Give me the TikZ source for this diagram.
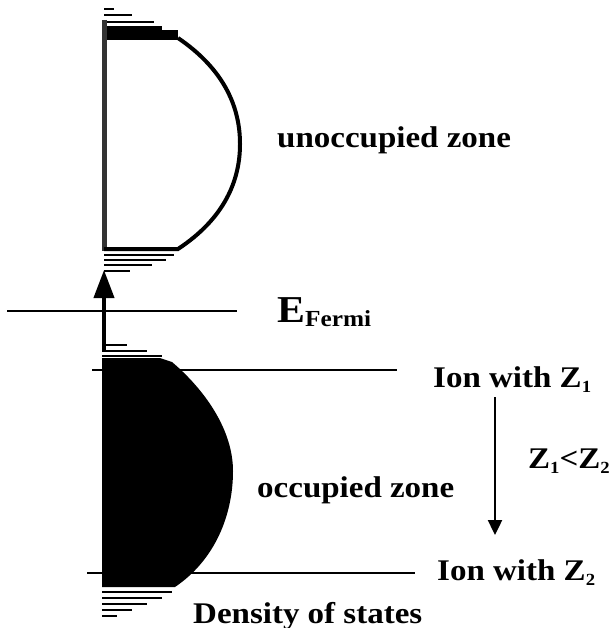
\documentclass[tikz,border=0pt]{standalone}
\usepackage{fontspec}
\setmainfont[FakeStretch=1.1]{Liberation Serif}
\usetikzlibrary{arrows.meta,positioning}
\definecolor{ink}{HTML}{000000}
\definecolor{axisgray}{HTML}{333333}
\newcommand\zsub[1]{\raisebox{-5pt}{\fontsize{17}{20}\selectfont #1}}

\begin{document}
\begin{tikzpicture}[x=1pt,y=-1pt,
  lbl/.style={anchor=base west,inner sep=0pt,font=\fontsize{30}{36}\selectfont\bfseries},
  level/.style={line width=2.4pt,ink},
  hatch/.style={line width=1.8pt,ink}]
  \useasboundingbox (0,0) rectangle (614,628);
  % unoccupied band
  \foreach \y/\l in {9/10,15/28,22/50,255/70,260/62,265/48,271/26}
    \draw[hatch] (104,\y) -- ++(\l,0);
  \fill[ink] (104,26) rectangle (162,40);
  \fill[ink] (104,30) rectangle (178,40);
  \draw[line width=5pt,axisgray] (104,20) -- (104,251);
  \draw[line width=4pt,ink] (104,249) -- (178,249)
    .. controls (225,218) and (240,180) .. (240,144)
    .. controls (240,108) and (225,70) .. (178,38);
  % occupied band
  \foreach \y/\l in {345/25,351/45,356/60,592/70,598/60,604/45,610/30,616/15}
    \draw[hatch] (102,\y) -- ++(\l,0);
  \fill[ink] (102,358) -- (160,358) -- (172,362)
    .. controls (205,390) and (233,430) .. (233,471)
    .. controls (233,515) and (215,560) .. (175,587) -- (102,587) -- cycle;
  % levels
  \coordinate (fermiL) at (7,311);
  \coordinate (fermiR) at (237,311);
  \coordinate (zoneL) at (92,370);
  \coordinate (zoneR) at (397,370);
  \coordinate (ztwoL) at (87,573);
  \coordinate (ztwoR) at (415,573);
  \draw[level,line width=2.2pt] (fermiL) -- (fermiR);
  \draw[level] (zoneL) -- (zoneR);
  \draw[level] (ztwoL) -- (ztwoR);
  % arrows
  \coordinate (upfoot) at (104,350);
  \coordinate (uptip) at (104,270);
  \draw[line width=4pt,-{Triangle[width=20pt,length=28pt]}] (upfoot) -- (uptip);
  \coordinate (zstart) at (495,397);
  \coordinate (zend) at (495,535);
  \draw[level,-{Triangle[width=14pt,length=15pt]}] (zstart) -- (zend);
  % labels
  \node[lbl] (unocc) at (277,148) {unoccupied zone};
  \node[lbl] (efermi) at (277,322) {\fontsize{38}{40}\selectfont E\raisebox{-4pt}{\fontsize{23}{28}\selectfont Fermi}};
  \node[lbl] (occ) at (257,497) {occupied zone};
  \node[lbl] (ionone) at (433,387) {Ion with Z\zsub{1}};
  \node[lbl] (zrel) at (528,468) {Z\zsub{1}<Z\zsub{2}};
  \node[lbl] (iontwo) at (437,580) {Ion with Z\zsub{2}};
  \node[lbl] (dos) at (193,623) {Density of states};
\end{tikzpicture}
\end{document}
